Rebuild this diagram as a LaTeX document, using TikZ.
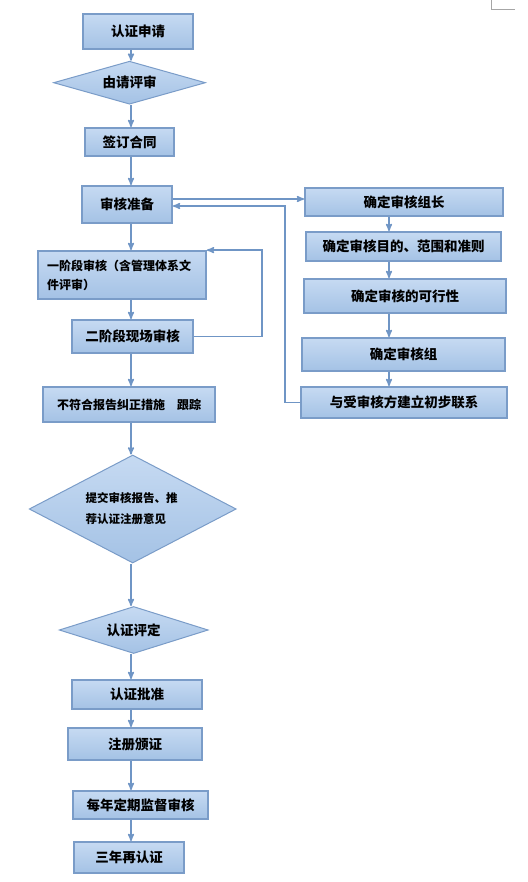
\documentclass[tikz,border=0pt]{standalone}
\usepackage{fontspec}
\setmainfont{Noto Sans CJK SC}
\usetikzlibrary{arrows,shapes.geometric,positioning}
\definecolor{boxtop}{HTML}{C6DAF2}
\definecolor{boxbot}{HTML}{A4C2E5}
\definecolor{boxline}{HTML}{7A9CC8}
\definecolor{flowline}{HTML}{6F95C5}

\begin{document}
\begin{tikzpicture}[x=1pt,y=-1pt,->,>=stealth',semithick]
          \tikzstyle{box}=[rectangle,draw=boxline,line width=1.8pt,top color=boxtop,bottom color=boxbot,text=black,inner sep=2pt,font=\bfseries\fontsize{13.5}{16}\selectfont]
          \tikzstyle{decision}=[diamond,draw=boxline,line width=1pt,top color=boxtop,bottom color=boxbot,text=black,inner sep=0pt,aspect=2,font=\bfseries\fontsize{13.5}{16}\selectfont]
          \tikzstyle{flow}=[draw=flowline,line width=1.5pt]
          \useasboundingbox (0,0) rectangle (527,882);

          % left column
          \node[box,minimum width=110pt,minimum height=35pt] (apply)    at (138,31.5)  {认证申请};
          \node[decision,minimum width=152pt,minimum height=43pt] (review) at (129.5,82.7) {由请评审};
          \node[box,minimum width=89pt,minimum height=28pt]  (contract) at (129.5,142) {签订合同};
          \node[box,minimum width=90pt,minimum height=37pt]  (prep)     at (127,204.5) {审核准备};
          \node[box,minimum width=168pt,minimum height=48pt,text width=150pt,align=left,
                font=\bfseries\fontsize{12}{19}\selectfont] (stage1) at (122,275) {一阶段审核（含管理体系文\\件评审）};
          \node[box,minimum width=121pt,minimum height=33pt] (stage2)   at (132.5,336.5) {二阶段现场审核};
          \node[box,minimum width=172pt,minimum height=35pt,
                font=\bfseries\fontsize{12}{14}\selectfont] (nc) at (129,404.5) {不符合报告纠正措施　跟踪};
          \node[decision,minimum width=207pt,minimum height=108pt,text width=94pt,align=left,
                font=\bfseries\fontsize{11.5}{21}\selectfont] (submit) at (132.7,509) {提交审核报告、推\\荐认证注册意见};
          \node[decision,minimum width=149pt,minimum height=47pt] (evaluate) at (133.7,630) {认证评定};
          \node[box,minimum width=130pt,minimum height=29pt] (approve)  at (137,694.5) {认证批准};
          \node[box,minimum width=134pt,minimum height=32pt] (issue)    at (135,744)   {注册颁证};
          \node[box,minimum width=135pt,minimum height=28pt] (surveil)  at (140.5,805) {每年定期监督审核};
          \node[box,minimum width=110pt,minimum height=31pt] (recert)   at (129,857.5) {三年再认证};

          % right column
          \node[box,minimum width=198pt,minimum height=28pt] (leader)   at (404,202)   {确定审核组长};
          \node[box,minimum width=195pt,minimum height=29pt] (aims)     at (403.5,246.5) {确定审核目的、范围和准则};
          \node[box,minimum width=202pt,minimum height=34pt] (feasible) at (405,296)   {确定审核的可行性};
          \node[box,minimum width=203pt,minimum height=33pt] (team)     at (403.5,354.5) {确定审核组};
          \node[box,minimum width=206pt,minimum height=31pt] (contact)  at (404,402.5) {与受审核方建立初步联系};

          \coordinate (spine)  at (131,0);
          \coordinate (rspine) at (389,0);

          \draw[flow] (spine |- apply.south)    -- (spine |- review.north);
          \draw[flow] (spine |- review.south)   -- (spine |- contract.north);
          \draw[flow] (spine |- contract.south) -- (spine |- prep.north);
          \draw[flow] (spine |- prep.south)     -- (spine |- stage1.north);
          \draw[flow] (spine |- stage1.south)   -- (spine |- stage2.north);
          \draw[flow] (spine |- stage2.south)   -- (spine |- nc.north);
          \draw[flow] (spine |- nc.south)       -- (spine |- submit.north);
          \draw[flow] (spine |- submit.south)   -- (spine |- evaluate.north);
          \draw[flow] (spine |- evaluate.south) -- (spine |- approve.north);
          \draw[flow] (spine |- approve.south)  -- (spine |- issue.north);
          \draw[flow] (spine |- issue.south)    -- (spine |- surveil.north);
          \draw[flow] (spine |- surveil.south)  -- (spine |- recert.north);

          \draw[flow] (rspine |- leader.south)   -- (rspine |- aims.north);
          \draw[flow] (rspine |- aims.south)     -- (rspine |- feasible.north);
          \draw[flow] (rspine |- feasible.south) -- (rspine |- team.north);
          \draw[flow] (rspine |- team.south)     -- (rspine |- contact.north);

          \draw[flow] ([yshift=5.5pt]prep.east) -- ([yshift=5.5pt]prep.east -| leader.west);
          \draw[flow] (contact.west) -- ++(-15,0) |- ([yshift=-1.5pt]prep.east);
          \draw[flow] (stage2.east) -- ++(68,0) |- (stage1.north east);

          \draw[-,gray!70,thin] (491,0) -- (491,9) -- (515,9);
        \end{tikzpicture}
\end{document}
